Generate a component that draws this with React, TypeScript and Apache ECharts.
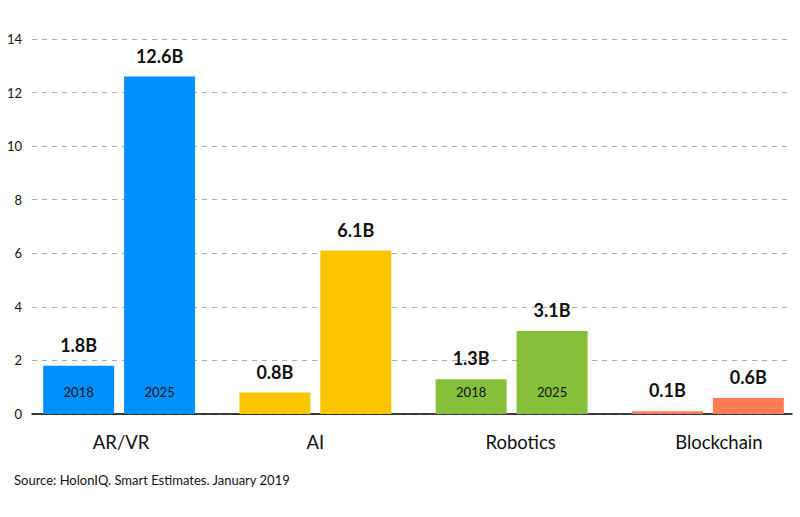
import React, { useEffect, useRef } from "react";
import * as echarts from "echarts";

const categories = ["AR/VR", "AI", "Robotics", "Blockchain"];
const values2018 = [1.8, 0.8, 1.3, 0.1];
const values2025 = [12.6, 6.1, 3.1, 0.6];
const colors = ["#0090FF", "#FFC400", "#86BF3A", "#FF7B57"];
const showYearTag = [true, false, true, false];
const yMin = 0;
const yMax = 14;
const yInterval = 2;
const sourceText = "Source: HolonIQ. Smart Estimates. January 2019";

const FONT = "Lato, 'Noto Sans', sans-serif";

export default function App() {
  const ref = useRef<HTMLDivElement>(null);
  useEffect(() => {
    document.body.style.margin = "0";
    document.body.style.overflow = "hidden";
    if (!ref.current) return;
    const chart = echarts.init(ref.current, undefined, { renderer: "svg" });
    const gridTop = 39;
    const gridBottom = 103;
    const mkData = (vals: number[]) =>
      vals.map((v, i) => ({ value: v, itemStyle: { color: colors[i] } }));
    const mkTag = (vals: number[], year: string) =>
      vals.map((v, i) => ({
        value: v,
        itemStyle: { color: "transparent" },
        label: { show: showYearTag[i], formatter: year },
      }));
    const barCommon = {
      barWidth: 71,
      barGap: "14%",
      barCategoryGap: "22%",
    };
    const valueLabel = {
      show: true,
      position: "top",
      distance: 12,
      formatter: (p: any) => `${p.value}B`,
      color: "#111",
      fontSize: 18,
      fontWeight: "bold",
      fontFamily: FONT,
    };
    const tagLabel = {
      position: "insideBottom",
      distance: 16,
      color: "#111",
      fontSize: 13,
      fontFamily: FONT,
    };
    const catText = {
      color: "#111",
      fontSize: 18.5,
      fontFamily: FONT,
    };
    chart.setOption({
      animation: false,
      backgroundColor: "#ffffff",
      grid: [
        { left: 32, right: 18, top: gridTop, bottom: gridBottom },
        { left: 21, right: 4, top: gridTop, bottom: gridBottom },
      ],
      xAxis: [
        {
          type: "category",
          gridIndex: 0,
          data: categories,
          axisLine: { show: true, lineStyle: { color: "#000", width: 1.5 } },
          axisTick: { show: false },
          axisLabel: { show: false },
        },
        {
          type: "category",
          gridIndex: 1,
          data: categories,
          axisLine: { show: false },
          axisTick: { show: false },
          axisLabel: {
            ...catText,
            margin: 18,
            formatter: (v: string, i: number) =>
              `{c${i}|${v}}`,
            rich: {
              c0: { ...catText, padding: [0, 0, 0, 4] },
              c1: { ...catText },
              c2: { ...catText, padding: [0, 0, 0, 18] },
              c3: { ...catText, padding: [0, 0, 0, 22] },
            },
          },
        },
        {
          type: "category",
          gridIndex: 1,
          data: categories,
          show: false,
        },
      ],
      yAxis: [
        {
          type: "value",
          gridIndex: 0,
          min: yMin,
          max: yMax,
          interval: yInterval,
          axisLine: { show: false },
          axisTick: { show: false },
          axisLabel: {
            color: "#111",
            fontSize: 13,
            fontFamily: FONT,
            margin: 10,
          },
          splitLine: {
            show: true,
            lineStyle: { color: "#aaaaaa", type: [5, 5], width: 1 },
          },
        },
        {
          type: "value",
          gridIndex: 1,
          min: yMin,
          max: yMax,
          interval: yInterval,
          show: false,
          splitLine: { show: false },
        },
      ],
      series: [
        {
          name: "2018",
          type: "bar",
          xAxisIndex: 1,
          yAxisIndex: 1,
          ...barCommon,
          data: mkData(values2018),
          label: valueLabel,
        },
        {
          name: "2025",
          type: "bar",
          xAxisIndex: 1,
          yAxisIndex: 1,
          ...barCommon,
          data: mkData(values2025),
          label: valueLabel,
        },
        {
          name: "tag2018",
          type: "bar",
          xAxisIndex: 2,
          yAxisIndex: 1,
          ...barCommon,
          z: 5,
          silent: true,
          data: mkTag(values2018, "2018"),
          label: tagLabel,
        },
        {
          name: "tag2025",
          type: "bar",
          xAxisIndex: 2,
          yAxisIndex: 1,
          ...barCommon,
          z: 5,
          silent: true,
          data: mkTag(values2025, "2025"),
          label: tagLabel,
        },
      ],
      graphic: [
        {
          type: "text",
          left: 14,
          top: 473,
          style: {
            text: sourceText,
            fill: "#111",
            fontSize: 13,
            fontFamily: FONT,
          },
        },
      ],
    });
    return () => chart.dispose();
  }, []);
  return <div ref={ref} style={{ width: 810, height: 517 }} />;
}
